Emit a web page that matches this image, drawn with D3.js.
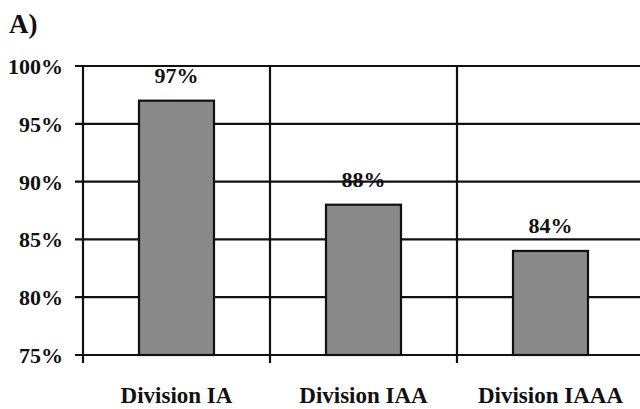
<!DOCTYPE html>
<html>
<head>
  <meta charset="utf-8">
  <title>A) Division comparison</title>
  <style>
    body { margin: 0; background: #fff; }
    svg { display: block; }
    text { font-family: "Liberation Serif", "Times New Roman", serif; font-weight: bold; fill: #111; }
  </style>
</head>
<body>
  <script src="https://cdn.jsdelivr.net/npm/d3@7/dist/d3.min.js"></script>
  <script>
    // data
    var categories = ["Division IA", "Division IAA", "Division IAAA"];
    var values = [97, 88, 84];
    var yTicks = [75, 80, 85, 90, 95, 100];

    var w = 640;
    var h = 409;
    var plotLeft = 83;
    var plotTop = 66;
    var plotBottom = 355;
    var band = 187;

    var svg = d3.select("body").append("svg")
        .attr("width", w)
        .attr("height", h);

    var x = d3.scaleBand()
        .domain(categories)
        .range([plotLeft, plotLeft + band * categories.length])
        .paddingInner(0)
        .paddingOuter(0);

    var y = d3.scaleLinear()
        .domain([75, 100])
        .range([plotBottom, plotTop]);

    // panel letter
    svg.append("text")
        .attr("x", 9)
        .attr("y", 33)
        .style("font-size", "27px")
        .text("A)");

    // horizontal grid lines (extend a bit left of the axis as ticks)
    svg.append("g")
        .selectAll("line")
        .data(yTicks)
        .enter()
        .append("line")
        .attr("x1", plotLeft - 8)
        .attr("x2", w + 10)
        .attr("y1", function(d) { return y(d); })
        .attr("y2", function(d) { return y(d); })
        .attr("stroke", "#111")
        .attr("stroke-width", 2.2);

    // vertical grid lines at band edges, with a tick below the base
    var edges = categories.map(function(c) { return x(c); });
    svg.append("g")
        .selectAll("line")
        .data(edges)
        .enter()
        .append("line")
        .attr("x1", function(d) { return d; })
        .attr("x2", function(d) { return d; })
        .attr("y1", plotTop)
        .attr("y2", plotBottom + 8)
        .attr("stroke", "#111")
        .attr("stroke-width", 2.2);

    // y tick labels
    svg.append("g")
        .selectAll("text")
        .data(yTicks)
        .enter()
        .append("text")
        .attr("x", 63)
        .attr("y", function(d) { return y(d) + 8; })
        .attr("text-anchor", "end")
        .style("font-size", "22px")
        .text(function(d) { return d + "%"; });

    // bars
    var barW = 75;
    svg.append("g")
        .selectAll("rect")
        .data(values)
        .enter()
        .append("rect")
        .attr("x", function(d, i) { return x(categories[i]) + x.bandwidth() / 2 - barW / 2; })
        .attr("y", function(d) { return y(d); })
        .attr("width", barW)
        .attr("height", function(d) { return plotBottom - y(d); })
        .attr("fill", "#8a8a8a")
        .attr("stroke", "#111")
        .attr("stroke-width", 2.2);

    // value labels
    svg.append("g")
        .selectAll("text")
        .data(values)
        .enter()
        .append("text")
        .attr("x", function(d, i) { return x(categories[i]) + x.bandwidth() / 2; })
        .attr("y", function(d) { return y(d) - 18; })
        .attr("text-anchor", "middle")
        .style("font-size", "22px")
        .text(function(d) { return d + "%"; });

    // category labels
    svg.append("g")
        .selectAll("text")
        .data(categories)
        .enter()
        .append("text")
        .attr("x", function(d) { return x(d) + x.bandwidth() / 2; })
        .attr("y", 403)
        .attr("text-anchor", "middle")
        .style("font-size", "23px")
        .text(function(d) { return d; });
  </script>
</body>
</html>
